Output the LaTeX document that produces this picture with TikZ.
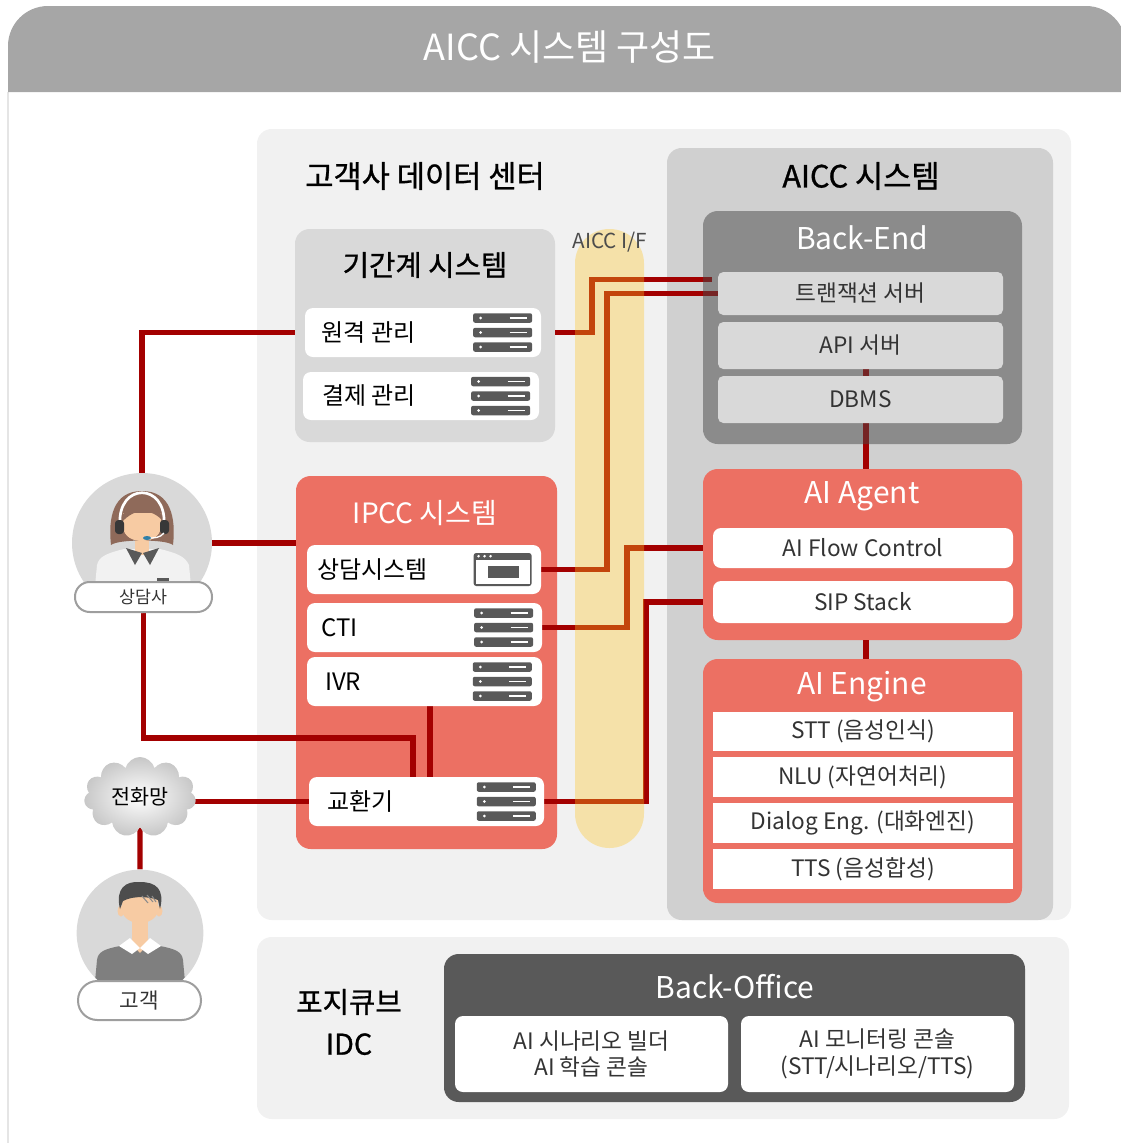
\documentclass[tikz,border=0pt]{standalone}
\usepackage{fontspec}
\setmainfont{Noto Sans CJK KR}
\newfontfamily\semibold{Noto Sans CJK KR}[FakeBold=0.9]
\usetikzlibrary{fit,shapes.symbols}

\definecolor{hdrgray}{HTML}{A6A6A6}
\definecolor{dcgray}{HTML}{F1F1F1}
\definecolor{aiccgray}{HTML}{D0D0D0}
\definecolor{panelgray}{HTML}{D9D9D9}
\definecolor{salmon}{HTML}{EC7063}
\definecolor{wire}{HTML}{A30000}
\definecolor{bandgold}{HTML}{FFC623}
\definecolor{backendgray}{HTML}{484848}
\definecolor{officegray}{HTML}{595959}
\definecolor{icongray}{HTML}{595959}
\definecolor{ink}{HTML}{333333}
\definecolor{avatarbg}{HTML}{D9D9D9}
\definecolor{hair}{HTML}{8F6A5A}
\definecolor{darkhair}{HTML}{4D4D4D}
\definecolor{skin}{HTML}{F7CBA3}
\definecolor{sweater}{HTML}{7F7F7F}
\definecolor{shirt}{HTML}{F2F2F2}
\definecolor{micblue}{HTML}{2F7FA8}

\pgfdeclarelayer{back}
\pgfdeclarelayer{lines}
\pgfdeclarelayer{veil}
\pgfsetlayers{back,lines,veil,main}

\begin{document}
\begin{tikzpicture}[
  x=0.75pt, y=-0.75pt,
  panel/.style={fill=#1, rounded corners=11pt, inner sep=0pt, outer sep=0pt},
  box/.style={fill=#1, rounded corners=6pt, inner sep=0pt},
  flat/.style={fill=white, inner sep=0pt},
  boxtext/.style={inner sep=0pt, text=ink, font=\fontsize{17}{20}\selectfont},
  boxlabel/.style={anchor=west, inner sep=0pt, text=black,
    font=\fontsize{18}{22}\selectfont},
  heading/.style={text=white, font=\fontsize{22.5}{26}\selectfont},
  sectitle/.style={text=black, font=\semibold\fontsize{23}{28}\selectfont},
  pill/.style={draw=black!38, line width=1.5pt, fill=white,
    rounded corners=#1, inner sep=0pt},
  avatar/.style={circle, fill=avatarbg, inner sep=0pt, minimum size=#1},
  wire/.style={draw=wire, line width=4pt},
  server/.pic={
    \foreach \r in {-14.5,0,14.5}{
      \fill[icongray, rounded corners=1.5pt] (-29.5,\r-4.75) rectangle (29.5,\r+4.75);
      \fill[white] (-22,\r) circle[radius=1.5];
      \draw[white, line width=0.8pt] (7,\r) -- (24,\r);
    }},
  browser/.pic={
    \fill[icongray, rounded corners=2pt] (-29,-16.5) rectangle (29,16.5);
    \fill[white] (-27,-10) rectangle (27,14.5);
    \fill[icongray] (-15,-3.5) rectangle (16,8.5);
    \foreach \d in {-24,-18,-12} \fill[white] (\d,-13.3) circle[radius=1.4];
  }]
\useasboundingbox (0,0) rectangle (1121,1143);

\begin{pgfonlayer}{back}
  \draw[black!10, line width=2pt] (8,92) -- (8,1143);
  \fill[hdrgray] (8,92) -- (8,46) arc[start angle=180, end angle=270, radius=40]
    -- (1086,6) arc[start angle=270, end angle=360, radius=40] -- (1126,92) -- cycle;
  \node[panel=dcgray, fit={(257,129) (1071,920)}] (dc) {};
  \node[panel=aiccgray, fit={(667,148) (1053,920)}] (aicc) {};
  \node[panel=panelgray, fit={(295,229) (555,442)}] (legacy) {};
  \node[panel=salmon, fit={(296,476) (557,849)}] (ipcc) {};
  \node[panel=salmon, fit={(703,469) (1022,640)}] (agentai) {};
  \node[panel=salmon, fit={(703,659) (1022,903)}] (engine) {};
  \node[panel=dcgray, fit={(257,937) (1069,1119)}] (idc) {};
  \node[panel=officegray, fit={(444,954) (1025,1102)}] (office) {};
\end{pgfonlayer}

\begin{pgfonlayer}{veil}
  \node[panel=bandgold, rounded corners=25.8pt, fill opacity=0.35,
    fit={(575,229) (644,848)}] (band) {};
  \node[panel=backendgray, fill opacity=0.5, fit={(703,211) (1022,444)}] (backend) {};
\end{pgfonlayer}

% titles
\node[heading, font=\fontsize{27}{32}\selectfont] (title) at (570,47) {AICC 시스템 구성도};
\node[sectitle] (dctitle) at (425,176) {고객사 데이터 센터};
\node[sectitle] (aicctitle) at (861,176) {AICC 시스템};
\node[sectitle, font=\semibold\fontsize{21.5}{26}\selectfont] (legacytitle) at (425,265) {기간계 시스템};
\node[text=black!70, font=\fontsize{15.5}{18}\selectfont] (iftitle) at (610,242) {AICC I/F};
\node[heading, font=\fontsize{21}{26}\selectfont] (ipcctitle) at (425,513) {IPCC 시스템};
\node[heading] (backendtitle) at (862,238) {Back-End};
\node[heading] (agenttitle) at (862,496) {AI Agent};
\node[heading] (enginetitle) at (862,687) {AI Engine};
\node[heading] (officetitle) at (735,987) {Back-Office};
\node[sectitle, font=\semibold\fontsize{21.5}{31.5}\selectfont, align=center] (idctitle) at (349,1022) {포지큐브\\IDC};

% legacy systems
\node[box=white, fit={(305,308) (541,357)}] (remote) {};
\node[boxlabel] (remotetxt) at ([xshift=12.5pt]remote.west) {원격 관리};
\pic at ([xshift=-29pt]remote.east) {server};
\node[box=white, fit={(303,372) (539,420)}] (billing) {};
\node[boxlabel] (billingtxt) at ([xshift=14.5pt]billing.west) {결제 관리};
\pic at ([xshift=-29pt]billing.east) {server};

% IPCC
\node[box=white, fit={(307,545) (541,594)}] (consult) {};
\node[boxlabel] (consulttxt) at ([xshift=7.5pt]consult.west) {상담시스템};
\pic at ([xshift=-29pt]consult.east) {browser};
\node[box=white, fit={(307,603) (542,652)}] (cti) {};
\node[boxlabel] (ctitxt) at ([xshift=11pt]cti.west) {CTI};
\pic at ([xshift=-29pt]cti.east) {server};
\node[box=white, fit={(307,657) (542,706)}] (ivr) {};
\node[boxlabel] (ivrtxt) at ([xshift=13.5pt]ivr.west) {IVR};
\pic at ([xshift=-30pt]ivr.east) {server};
\node[box=white, fit={(309,777) (544,826)}] (pbx) {};
\node[boxlabel] (pbxtxt) at ([xshift=14pt]pbx.west) {교환기};
\pic at ([xshift=-28.5pt]pbx.east) {server};

% back-end
\node[box=panelgray, rounded corners=4pt, fit={(718,272) (1003,315)}] (txn) {};
\node[boxtext] (txntxt) at (txn) {트랜잭션 서버};
\node[box=panelgray, rounded corners=4pt, fit={(718,322) (1003,369)}] (api) {};
\node[boxtext] (apitxt) at (api) {API 서버};
\node[box=panelgray, rounded corners=4pt, fit={(718,376) (1003,423)}] (dbms) {};
\node[boxtext] (dbmstxt) at (dbms) {DBMS};

% AI agent / engine
\node[box=white, fit={(713,528) (1013,568)}] (flow) {};
\node[boxtext] (flowtxt) at (flow) {AI Flow Control};
\node[box=white, fit={(713,581) (1013,623)}] (sip) {};
\node[boxtext] (siptxt) at (sip) {SIP Stack};
\node[flat, fit={(713,712) (1013,751)}] (stt) {};
\node[boxtext] (stttxt) at (stt) {STT (음성인식)};
\node[flat, fit={(713,757) (1013,797)}] (nlu) {};
\node[boxtext] (nlutxt) at (nlu) {NLU (자연어처리)};
\node[flat, fit={(713,803) (1013,843)}] (dialog) {};
\node[boxtext] (dialogtxt) at (dialog) {Dialog Eng. (대화엔진)};
\node[flat, fit={(713,849) (1013,889)}] (tts) {};
\node[boxtext] (ttstxt) at (tts) {TTS (음성합성)};

% back-office
\node[box=white, fit={(455,1016) (728,1092)}] (builder) {};
\node[boxtext, align=center] (buildertxt) at (builder) {AI 시나리오 빌더\\AI 학습 콘솔};
\node[box=white, fit={(741,1016) (1014,1092)}] (monitor) {};
\node[boxtext, align=center] (monitortxt) at (monitor) {AI 모니터링 콘솔\\(STT/시나리오/TTS)};

% agent
\node[avatar=105pt] (agent) at (142,543) {};
\begin{scope}
  \clip (agent.center) circle[radius=70];
  \begin{scope}[shift={(agent.center)}]
    \fill[shirt] (-50,75) -- (-45,22) .. controls (-43,13) and (-34,10) .. (-18,6)
      -- (18,6) .. controls (34,10) and (43,13) .. (47,22) -- (52,75) -- cycle;
    \fill[skin] (-7,-6) rectangle (7,12);
    \fill[icongray] (-16,5) -- (0,10) -- (-7,22) -- cycle;
    \fill[icongray] (17,5) -- (1,10) -- (8,22) -- cycle;
    \fill[icongray] (15,35) rectangle (27,38);
    \fill[hair] (-31,2) .. controls (-34,-25) and (-29,-52) .. (0,-52)
      .. controls (29,-52) and (34,-25) .. (31,2)
      .. controls (24,-4) and (-24,-4) .. cycle;
    \fill[skin] (-19,-30) -- (-19,-16) .. controls (-18,-6) and (-9,-2) .. (0,-2)
      .. controls (9,-2) and (18,-6) .. (19,-16) -- (19,-30) -- cycle;
    \fill[hair] (-21,-20) .. controls (-21,-44) and (18,-48) .. (21,-22)
      .. controls (10,-34) and (-6,-37) .. cycle;
    \draw[white, line width=2pt] (-22,-18) .. controls (-25,-61) and (25,-61) .. (22,-18);
    \fill[black!78, rounded corners=2.5pt] (-27,-23) rectangle (-18,-9);
    \fill[black!78, rounded corners=2.5pt] (18,-23) rectangle (27,-9);
    \draw[white, line width=1pt] (22,-10) .. controls (18,-5) and (12,-5) .. (7,-5);
    \fill[micblue] (5,-5) ellipse[x radius=4, y radius=2];
  \end{scope}
\end{scope}
\node[pill=11pt, fit={(75,582) (212,612)}] (agentlabel) {};
\node[boxtext, font=\fontsize{13}{15}\selectfont] (agentname) at (agentlabel) {상담사};

% customer
\node[avatar=95pt] (customer) at (140,933) {};
\begin{scope}
  \clip (customer.center) circle[radius=63.3];
  \begin{scope}[shift={(customer.center)}]
    \fill[sweater] (-47,70) -- (-43,27) .. controls (-42,19) and (-36,16) .. (-20,13)
      -- (20,13) .. controls (36,16) and (42,19) .. (43,27) -- (47,70) -- cycle;
    \fill[skin] (-8,-16) rectangle (8,12);
    \fill[skin] (-9,10) -- (9,10) -- (0,20) -- cycle;
    \fill[white] (-21,13) -- (-10,5) -- (0,15) -- (-8,21) -- cycle;
    \fill[white] (21,13) -- (10,5) -- (0,15) -- (8,21) -- cycle;
    \fill[skin] (-19,-22) ellipse[x radius=3.5, y radius=5.5];
    \fill[skin] (19,-22) ellipse[x radius=3.5, y radius=5.5];
    \fill[skin] (-18,-38) -- (-18,-23) .. controls (-17,-14) and (-8,-10) .. (0,-10)
      .. controls (8,-10) and (17,-14) .. (18,-23) -- (18,-38) -- cycle;
    \fill[darkhair] (-20,-24) .. controls (-25,-45) and (-14,-52) .. (0,-51)
      .. controls (16,-51) and (25,-44) .. (20,-24) -- (18,-33)
      .. controls (10,-36) and (-6,-38) .. (-17,-32) -- cycle;
    \draw[black!45, line width=0.8pt] (2,-37) -- (8,-30) (7,-38) -- (13,-31) (12,-37) -- (16,-31);
  \end{scope}
\end{scope}
\node[pill=14.5pt, fit={(78,981) (201,1020)}] (customerlabel) {};
\node[boxtext, font=\fontsize{16}{18}\selectfont] (customername) at (customerlabel) {고객};

% telephone network
\node[cloud, cloud puffs=11, aspect=1.45, inner color=white, outer color=black!22,
  minimum width=84pt, minimum height=60pt, inner sep=0pt] (pstn) at (140,797) {};
\node[boxtext, text=black, font=\fontsize{15.5}{18}\selectfont] (pstntxt) at (pstn) {전화망};

% connectors
\coordinate (tap) at (413,738);
\coordinate (ivrdrop) at (430,0);
\coordinate (jogA) at (592,0);
\coordinate (jogB) at (607,0);
\coordinate (jogC) at (627,0);
\coordinate (jogD) at (646,0);
\coordinate (spine) at (866,0);
\coordinate (txnhi) at ([xshift=-4.5pt,yshift=10.5pt]txn.west);
\begin{pgfonlayer}{lines}
  \draw[wire] (agent.north) |- (legacy.west |- remote);
  \draw[wire] (agent.east) -- (ipcc.west |- agent.east);
  \draw[wire] (agentlabel.south) |- (tap) -- (tap |- pbx.north);
  \draw[wire] (ivr.south -| ivrdrop) -- (pbx.north -| ivrdrop);
  \draw[wire] (pbx.west -| pstn.east) -- (pbx.west);
  \draw[wire] (pstn.south) -- (customer.north);
  \draw[wire] (legacy.east |- remote) -| (jogA |- txnhi) -- (txnhi);
  \draw[wire] (consult.east) -| (jogB |- txn.west) -- (txn.west);
  \draw[wire] (cti.east) -| (jogC |- flow) -- (agentai.west |- flow);
  \draw[wire] (pbx.east) -| (jogD |- sip) -- (agentai.west |- sip);
  \draw[wire] (api.south -| spine) -- (agentai.north -| spine);
  \draw[wire] (agentai.south -| spine) -- (engine.north -| spine);
\end{pgfonlayer}
\end{tikzpicture}
\end{document}
